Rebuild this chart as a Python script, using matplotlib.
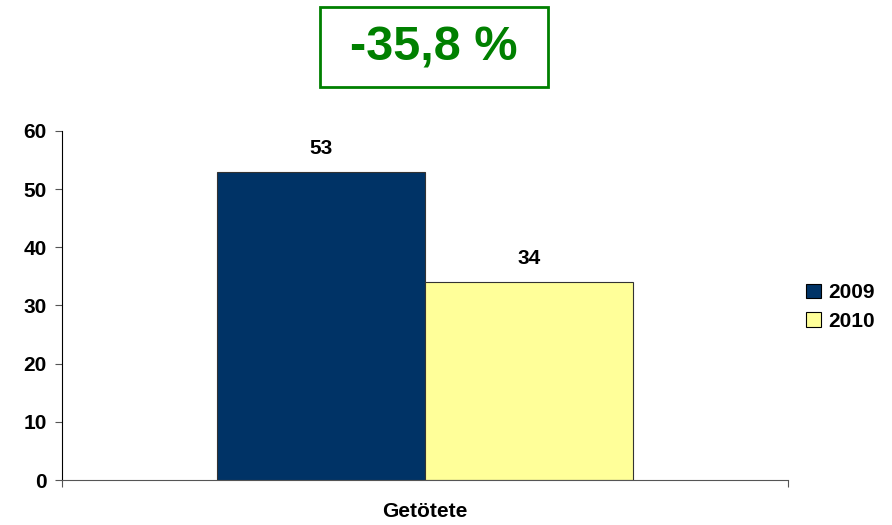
import matplotlib.pyplot as plt
from matplotlib.patches import Patch, Rectangle

plt.rcParams['font.family'] = ['Liberation Sans', 'DejaVu Sans']
plt.rcParams['font.weight'] = 'bold'

# Data
category = "Getötete"
years = ["2009", "2010"]
values = [53, 34]
colors = ["#003366", "#FFFF99"]
change_text = "-35,8 %"

fs = 15

fig = plt.figure(figsize=(8.92, 5.25), dpi=100)
ax = fig.add_axes([0.0695, 0.0857, 0.8139, 0.6648])

bar_w = 0.286
offsets = [-bar_w / 2, bar_w / 2]
for off, v, c in zip(offsets, values, colors):
    ax.bar(off, v, width=bar_w, color=c, edgecolor="#333333", linewidth=0.8)
    ax.text(off, v + 2.4, str(v), ha="center", va="bottom", fontsize=fs, fontweight="bold")

ax.set_xlim(-0.5, 0.5)
ax.set_ylim(0, 60)
ax.set_yticks(range(0, 61, 10))
ax.tick_params(axis="y", labelsize=fs, length=5, color="#555555", pad=6)
ax.set_xticks([-0.5, 0.5])
ax.set_xticklabels(["", ""])
ax.tick_params(axis="x", length=5, color="#555555")
ax.set_xticks([0], minor=True)
ax.set_xticklabels([category], minor=True, fontsize=fs, fontweight="bold")
ax.tick_params(axis="x", which="minor", length=0, pad=16)
for lbl in ax.get_yticklabels():
    lbl.set_fontweight("bold")

ax.spines["top"].set_visible(False)
ax.spines["right"].set_visible(False)
ax.spines["left"].set_color("black")
ax.spines["bottom"].set_color("#555555")

handles = [Patch(facecolor=c, edgecolor="black", linewidth=0.8) for c in colors]
fig.legend(handles, years, loc="center left", bbox_to_anchor=(0.9036, 0.415),
           frameon=False, prop={"size": fs, "weight": "bold"}, borderpad=0, borderaxespad=0,
           handlelength=0.7, handleheight=0.7, handletextpad=0.35, labelspacing=0.45)

# green box with the change
fig.patches.append(Rectangle((0.3587, 0.8343), 0.2556, 0.1524, transform=fig.transFigure,
                             facecolor="white", edgecolor="#008000", linewidth=2))
fig.text(0.4866, 0.908, change_text, ha="center", va="center", fontsize=35,
         fontweight="bold", color="#008000")

fig.savefig("out.png", dpi=100)
